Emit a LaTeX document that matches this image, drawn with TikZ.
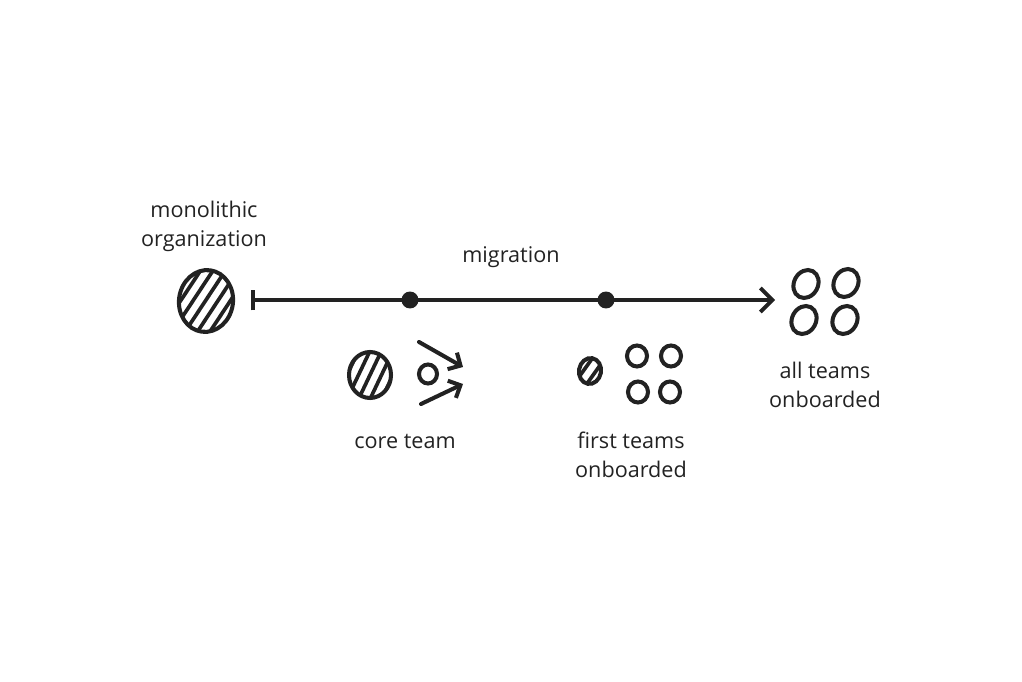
\documentclass[tikz,border=0pt]{standalone}
\usepackage{fontspec}
\setmainfont{Open Sans}
\usetikzlibrary{shapes.geometric,arrows.meta,positioning}

\definecolor{ink}{HTML}{222222}

\begin{document}
\begin{tikzpicture}[
  x=0.02cm, y=-0.02cm,
  label text/.style={align=center, text=ink, font=\fontsize{12.3}{16.5}\selectfont},
  team/.style={ellipse, draw=ink, line width=2.3pt, inner sep=0pt},
  hatched/.style={team, path picture={
      \foreach \i in {-5,...,5}
        \draw[ink, line width=2.1pt] (path picture bounding box.center) ++(\i*11.5-20+#1, 42) -- ++(40, -84);
    }},
  hatched/.default=0,
  dot/.style={circle, fill=ink, inner sep=0pt, minimum size=0.34cm},
  timeline/.style={ink, line width=2.2pt, {Bar[width=4.2mm]}-{Straight Barb[length=2.4mm, width=4.8mm]}},
  push/.style={ink, line width=2.3pt, line cap=round, -{Straight Barb[length=1.9mm, width=3.8mm]}}
]
  \useasboundingbox (0,0) rectangle (1022,682);

  % Timeline
  \coordinate (start) at (251,300);
  \node[dot] (step1) at (410,300) {};
  \node[dot] (step2) at (606,300) {};
  \coordinate (finish) at (775,300);
  \draw[timeline] (start) -- (step1.center) -- (step2.center) -- (finish);
  \node[label text] (migration) at (511,257) {migration};

  % Monolith
  \node[hatched, minimum width=1.08cm, minimum height=1.24cm, rotate=-8] (mono) at (206,301) {};
  \node[label text] (mono label) at (204,226) {monolithic\\organization};

  % Core team
  \node[hatched, minimum width=0.84cm, minimum height=0.92cm] (core) at (370,375) {};
  \node[team, minimum width=0.36cm, minimum height=0.38cm] (seed) at (428,374) {};
  \coordinate (push1 start) at (419,342);
  \coordinate (push1 end) at (463,367);
  \coordinate (push2 start) at (421,404);
  \coordinate (push2 end) at (463,384);
  \draw[push] (push1 start) -- (push1 end);
  \draw[push] (push2 start) -- (push2 end);
  \node[label text] (core label) at (405,441) {core team};

  % First teams onboarded
  \node[hatched=5.75, minimum width=0.44cm, minimum height=0.52cm, rotate=-10] (rest) at (590,371) {};
  \foreach \name/\x/\y in {t1/637/356, t2/671/356, t3/638/392, t4/670/392}
    \node[team, minimum width=0.4cm, minimum height=0.42cm] (\name) at (\x,\y) {};
  \node[label text] (first label) at (631,455) {first teams\\onboarded};

  % All teams onboarded
  \foreach \name/\x/\y in {a1/806/284, a2/846/283, a3/804/320, a4/845/320}
    \node[team, minimum width=0.48cm, minimum height=0.58cm, rotate=-28] (\name) at (\x,\y) {};
  \node[label text] (all label) at (825,385) {all teams\\onboarded};
\end{tikzpicture}
\end{document}
